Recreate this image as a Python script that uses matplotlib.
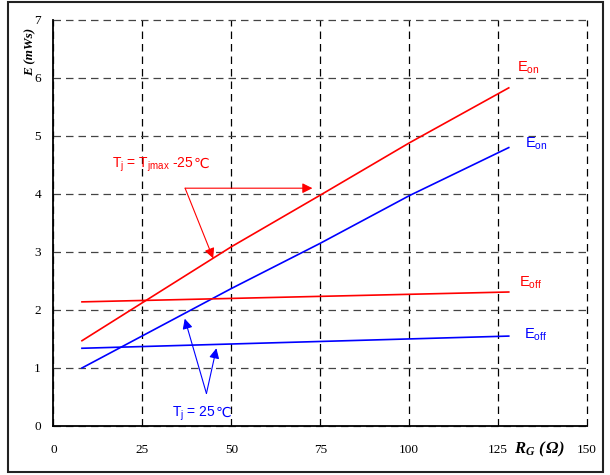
import matplotlib
matplotlib.use("Agg")
import matplotlib.pyplot as plt
from matplotlib.patches import Rectangle

plt.rcParams["mathtext.fontset"] = "custom"
plt.rcParams["mathtext.rm"] = "Liberation Serif:bold:italic"
plt.rcParams["mathtext.it"] = "Liberation Serif:bold:italic"
plt.rcParams["mathtext.bf"] = "Liberation Serif:bold:italic"

# Data
rg_pts = [8, 50, 75, 100, 128]
eon_hot = [1.47, 3.09, 3.98, 4.88, 5.83]
eon_25 = [1.00, 2.37, 3.15, 3.97, 4.80]
rg_off = [8, 128]
eoff_hot = [2.14, 2.31]
eoff_25 = [1.34, 1.55]

xticks = [0, 25, 50, 75, 100, 125, 150]
yticks = [0, 1, 2, 3, 4, 5, 6, 7]

RED = "#ff0000"
BLUE = "#0000ff"
SANS = ["Liberation Sans", "DejaVu Sans"]
SERIF = "Liberation Serif"

fig = plt.figure(figsize=(6.10, 4.75), dpi=100)
ax = fig.add_axes([0.0877, 0.1032, 0.8746, 0.8547])

ax.set_xlim(0, 150)
ax.set_ylim(0, 7)
ax.set_xticks(xticks)
ax.set_yticks(yticks)
ax.set_xticklabels([str(t) for t in xticks], fontfamily=SERIF, fontsize=9.5)
ax.set_yticklabels([str(t) for t in yticks], fontfamily=SERIF, fontsize=9.5)
ax.tick_params(axis="both", length=0)
ax.tick_params(axis="x", pad=13)
ax.tick_params(axis="y", pad=9)

for s in ["top", "right"]:
    ax.spines[s].set_visible(False)
for s in ["left", "bottom"]:
    ax.spines[s].set_linewidth(1.3)
    ax.spines[s].set_color("black")
    ax.spines[s].set_zorder(5)

ax.xaxis.grid(True, color="black", linestyle=(0, (6, 4)), linewidth=0.9)
ax.yaxis.grid(True, color="#444444", linestyle=(0, (6, 4)), linewidth=0.9)
ax.set_axisbelow(True)
for gl in ax.get_xgridlines() + ax.get_ygridlines():
    gl.set_clip_on(False)

# Data lines
ax.plot(rg_pts, eon_hot, color=RED, lw=1.2)
ax.plot(rg_pts, eon_25, color=BLUE, lw=1.2)
ax.plot(rg_off, eoff_hot, color=RED, lw=1.2)
ax.plot(rg_off, eoff_25, color=BLUE, lw=1.2)

# Curve labels
lab_fs = 10.5
ax.text(130.4, 6.17, r"E$_{\mathregular{on}}$", color=RED, fontfamily=SANS, fontsize=lab_fs, va="center", ha="left")
ax.text(132.6, 4.86, r"E$_{\mathregular{on}}$", color=BLUE, fontfamily=SANS, fontsize=lab_fs, va="center", ha="left")
ax.text(130.8, 2.46, r"E$_{\mathregular{off}}$", color=RED, fontfamily=SANS, fontsize=lab_fs, va="center", ha="left")
ax.text(132.2, 1.57, r"E$_{\mathregular{off}}$", color=BLUE, fontfamily=SANS, fontsize=lab_fs, va="center", ha="left")

# Annotations (the ℃ sign is drawn as its own text in DejaVu Sans)
hot_y = 4.45
cold_y = 0.16
t1 = ax.text(16.4, hot_y, r"T$_{\mathregular{j}}$ = T$_{\mathregular{jmax}}$ -25", color=RED,
             fontfamily="Liberation Sans", fontsize=10, va="baseline", ha="left")
ax.annotate("℃", xy=(1, hot_y), xycoords=(t1, "data"), xytext=(0.3, 0), textcoords="offset points",
            color=RED, fontfamily="DejaVu Sans", fontsize=10, va="baseline", ha="left")
t2 = ax.text(33.2, cold_y, r"T$_{\mathregular{j}}$ = 25", color=BLUE,
             fontfamily="Liberation Sans", fontsize=10, va="baseline", ha="left")
ax.annotate("℃", xy=(1, cold_y), xycoords=(t2, "data"), xytext=(0.3, 0), textcoords="offset points",
            color=BLUE, fontfamily="DejaVu Sans", fontsize=10, va="baseline", ha="left")

def arrow(tail, tip, color):
    ax.annotate("", xy=tip, xytext=tail,
                arrowprops=dict(arrowstyle="-|>", color=color, lw=0.8,
                                mutation_scale=15, shrinkA=0, shrinkB=0))

arrow((37.0, 4.10), (72.8, 4.10), RED)
arrow((37.0, 4.10), (44.9, 2.89), RED)
arrow((43.0, 0.56), (36.9, 1.85), BLUE)
arrow((43.0, 0.56), (45.8, 1.34), BLUE)

# Axis labels
fig.text(0.049, 0.890, "E (mWs)", rotation=90, ha="center", va="center",
         fontsize=9.5, fontfamily=SERIF, fontweight="bold", fontstyle="italic")
ax.text(0.911, -0.058, r"$R_{G}\ (\,\Omega)$", transform=ax.transAxes,
        ha="center", va="center", fontsize=12)

# Outer frame
fig.patches.append(Rectangle((0.0135, 0.007), 0.975, 0.988, transform=fig.transFigure,
                             fill=False, edgecolor="#222222", linewidth=1.5))

fig.savefig("out.png", dpi=100)
